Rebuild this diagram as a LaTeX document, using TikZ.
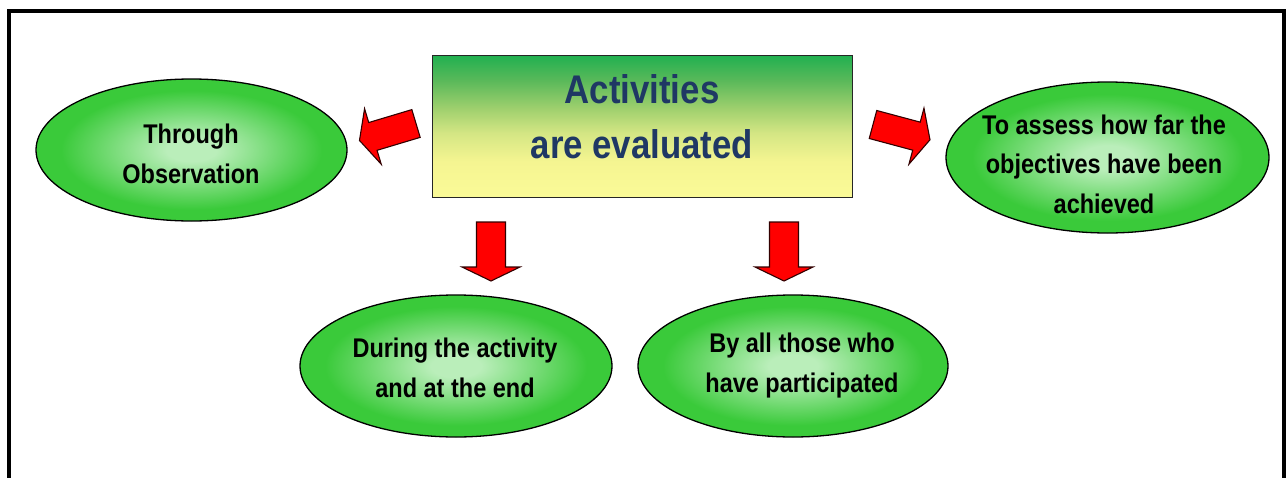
\documentclass[tikz,border=0pt]{standalone}
\usepackage{fontspec}
\setmainfont{Liberation Sans}
\newfontfamily\narrowbold[FakeStretch=0.87,UprightFont={* Bold}]{Liberation Sans}
\usetikzlibrary{shapes.geometric}
\definecolor{navy}{RGB}{31,56,100}
\definecolor{ellin}{RGB}{186,238,186}
\definecolor{ellout}{RGB}{58,202,58}
\definecolor{arrred}{RGB}{255,0,0}
\definecolor{arredge}{RGB}{50,0,0}
\definecolor{bA}{RGB}{250,250,152}
\definecolor{bB}{RGB}{245,245,145}
\definecolor{bC}{RGB}{212,230,132}
\definecolor{bD}{RGB}{160,208,110}
\definecolor{bE}{RGB}{90,185,90}
\definecolor{bF}{RGB}{32,176,80}
\pgfdeclareverticalshading{boxshade}{100bp}{color(0bp)=(bA); color(25bp)=(bA); color(37.5bp)=(bB); color(47.5bp)=(bC); color(56bp)=(bD); color(66bp)=(bE); color(75bp)=(bF); color(100bp)=(bF)}
\pgfdeclareradialshading{ellshade}{\pgfpoint{0bp}{0bp}}{color(0bp)=(ellin); color(4bp)=(ellin); color(21bp)=(ellout); color(25bp)=(ellout); color(50bp)=(ellout)}
\tikzset{
  frame/.style={line width=3.5pt, draw=black},
  mainbox/.style={rectangle, draw=black!85, line width=1pt, shading=boxshade, inner sep=0pt},
  oval/.style={ellipse, draw=black, line width=1.3pt, shading=ellshade, inner sep=0pt},
  titletext/.style={font=\narrowbold\fontsize{40}{55}\selectfont, text=navy, align=center, inner sep=0pt},
  ovaltext/.style={font=\narrowbold\fontsize{27}{39.5}\selectfont, text=black, align=center, inner sep=0pt},
  arrowbody/.style={fill=arrred, draw=arredge, line width=1.1pt, line join=miter},
  redarrow/.pic={\path[arrowbody] (0,-14.5) -- (45,-14.5) -- (45,-29) -- (59,0) -- (45,29) -- (45,14.5) -- (0,14.5) -- cycle;}
}
\begin{document}
\begin{tikzpicture}[x=1pt, y=-1pt]
\clip (0,0) rectangle (1286,477);
\fill[white] (0,0) rectangle (1286,477);
\draw[frame] (9,11) rectangle (1284,520);
% central box
\node[mainbox, minimum width=420pt, minimum height=142pt] (main) at (642,126) {};
\node[titletext, anchor=base] (title) at (642,158) {Activities\\are evaluated};
% ovals
\node[oval, minimum width=311pt, minimum height=142pt] (obs) at (191.5,150) {};
\node[ovaltext, anchor=base] (obstext) at (191,183) {Through\\Observation};
\node[oval, minimum width=323pt, minimum height=151pt] (obj) at (1107.5,157.5) {};
\node[ovaltext, anchor=base] (objtext) at (1104,213) {To assess how far the\\objectives have been\\achieved};
\node[oval, minimum width=312pt, minimum height=142pt] (dur) at (456,366) {};
\node[ovaltext, anchor=base] (durtext) at (455,397) {During the activity\\and at the end};
\node[oval, minimum width=310pt, minimum height=142pt] (all) at (793,366) {};
\node[ovaltext, anchor=base] (alltext) at (802,392) {By all those who\\have participated};
% arrows
\pic[rotate=196.7] at (416,123.5) {redarrow};
\pic[rotate=-15] at (873,124.5) {redarrow};
\pic[rotate=-90] at (491,222) {redarrow};
\pic[rotate=-90] at (784,222) {redarrow};
\end{tikzpicture}
\end{document}
